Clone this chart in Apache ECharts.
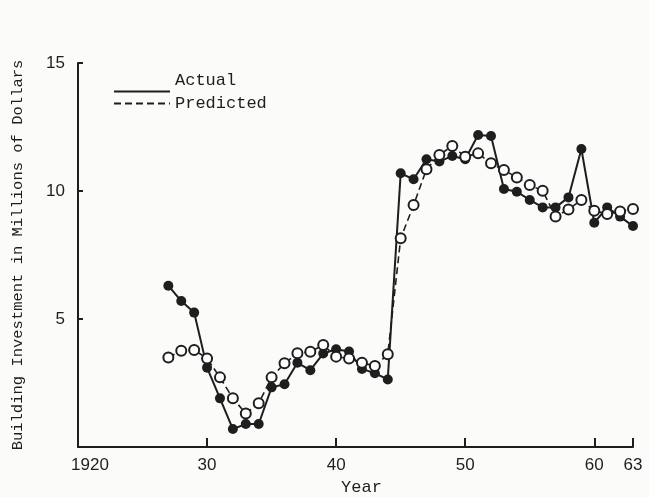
<!DOCTYPE html>
<html>
<head>
<meta charset="utf-8">
<script src="https://cdn.jsdelivr.net/npm/echarts@6/dist/echarts.min.js"></script>
<style>
  html, body { margin: 0; padding: 0; background: #fbfbf9; }
  #chart { width: 649px; height: 497px; }
</style>
</head>
<body>
<div id="chart"></div>
<script>
// years of the plotted points
var years = [1927, 1928, 1929, 1930, 1931, 1932, 1933, 1934, 1935, 1936,
  1937, 1938, 1939, 1940, 1941, 1942, 1943, 1944, 1945, 1946,
  1947, 1948, 1949, 1950, 1951, 1952, 1953, 1954, 1955, 1956,
  1957, 1958, 1959, 1960, 1961, 1962, 1963]
// building investment, millions of dollars
var actual = [6.3, 5.7, 5.25, 3.1, 1.9, 0.7, 0.9, 0.9, 2.33, 2.45,
  3.29, 3.0, 3.65, 3.82, 3.73, 3.05, 2.88, 2.64, 10.69, 10.46,
  11.24, 11.15, 11.37, 11.24, 12.19, 12.15, 10.08, 9.97, 9.65, 9.36,
  9.36, 9.75, 11.64, 8.76, 9.36, 9.0, 8.63]
var predicted = [3.5, 3.76, 3.79, 3.46, 2.72, 1.9, 1.31, 1.71, 2.72, 3.27,
  3.66, 3.72, 3.98, 3.53, 3.46, 3.29, 3.16, 3.62, 8.15, 9.45,
  10.85, 11.41, 11.76, 11.34, 11.47, 11.08, 10.82, 10.53, 10.23, 10.01,
  9.0, 9.28, 9.65, 9.23, 9.1, 9.2, 9.3]
var xLabelYears = [1920, 1930, 1940, 1950, 1960, 1963]
var xTickYears = [1930, 1940, 1950, 1960, 1963]

var ink = '#1e1e1e'
var mono = 'Liberation Mono'

function pairs(ys) {
  var out = []
  for (var i = 0; i < years.length; i++) {
    out.push([years[i], ys[i]])
  }
  return out
}

var chart = echarts.init(document.getElementById('chart'))
var option = {
  backgroundColor: '#fbfbf9',
  animation: false,
  grid: { left: 78, right: 16, top: 63, bottom: 50, outerBoundsMode: 'none' },
  legend: [
    {
      // text sits above the solid sample line
      data: ['Actual'],
      left: 108, top: 67,
      orient: 'vertical',
      itemWidth: 56, itemHeight: 10, itemGap: 0,
      itemStyle: { opacity: 0 },
      formatter: '{up|{name}}',
      textStyle: {
        fontFamily: mono, fontSize: 17, color: ink,
        rich: { up: { fontFamily: mono, fontSize: 17, color: ink, padding: [0, 0, 22, 0] } }
      }
    },
    {
      data: ['Predicted'],
      left: 108, top: 90,
      orient: 'vertical',
      itemWidth: 56, itemHeight: 10, itemGap: 0,
      itemStyle: { opacity: 0 },
      textStyle: { fontFamily: mono, fontSize: 17, color: ink }
    }
  ],
  xAxis: {
    type: 'value',
    min: 1920,
    max: 1963,
    name: 'Year',
    nameLocation: 'middle',
    nameGap: 31,
    nameTextStyle: { fontFamily: mono, fontSize: 17, color: ink, padding: [0, 0, 0, 12] },
    splitLine: { show: false },
    axisLine: { lineStyle: { color: ink, width: 2 } },
    axisTick: { inside: true, length: 9, customValues: xTickYears, lineStyle: { color: ink, width: 2 } },
    axisLabel: {
      customValues: xLabelYears,
      margin: 10,
      fontFamily: 'Liberation Sans',
      fontSize: 17,
      color: ink,
      formatter: function (v) {
        if (v === 1920) return '{first|1920}'
        return String(v).slice(2)
      },
      rich: {
        first: { fontFamily: 'Liberation Sans', fontSize: 17, color: ink, padding: [0, 0, 0, 24] }
      }
    }
  },
  yAxis: {
    type: 'value',
    min: 0,
    max: 15,
    interval: 5,
    name: 'Building Investment in Millions of Dollars',
    nameLocation: 'middle',
    nameGap: 52,
    nameTextStyle: { fontFamily: mono, fontSize: 15.5, color: ink },
    splitLine: { show: false },
    axisLine: { show: true, lineStyle: { color: ink, width: 2 } },
    axisTick: { show: true, inside: true, length: 5, lineStyle: { color: ink, width: 2 } },
    axisLabel: {
      showMinLabel: false,
      margin: 13,
      fontFamily: 'Liberation Sans',
      fontSize: 17,
      color: ink
    }
  },
  series: [
    {
      name: 'Actual',
      type: 'line',
      data: pairs(actual),
      symbol: 'circle',
      symbolSize: 10,
      itemStyle: { color: ink },
      lineStyle: { color: ink, width: 2 }
    },
    {
      name: 'Predicted',
      type: 'line',
      data: pairs(predicted),
      symbol: 'circle',
      symbolSize: 10,
      itemStyle: { color: '#ffffff', borderColor: ink, borderWidth: 2 },
      lineStyle: { color: ink, width: 1.6, type: [7, 4] }
    }
  ]
}
chart.setOption(option)
</script>
</body>
</html>
